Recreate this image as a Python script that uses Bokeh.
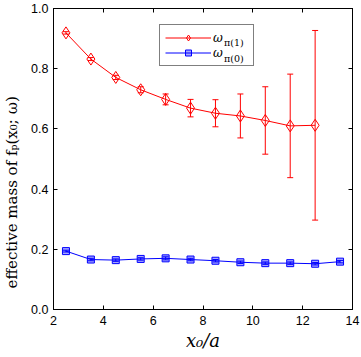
from bokeh.plotting import figure
from bokeh.models import (ColumnDataSource, Range1d, FixedTicker, NumeralTickFormatter,
                          LinearAxis, Label, Legend, LegendItem, Whisker, TeeHead,
                          CustomLabelingPolicy)
from bokeh.core.properties import value
from bokeh.embed import file_html
from bokeh.resources import INLINE

# ---------------- data ----------------
x_pi1 = [2.5, 3.5, 4.5, 5.5, 6.5, 7.5, 8.5, 9.5, 10.5, 11.5, 12.5]
m_pi1 = [0.919, 0.832, 0.771, 0.730, 0.698, 0.669, 0.652, 0.643, 0.628, 0.610, 0.612]
e_pi1 = [0.004, 0.005, 0.007, 0.010, 0.018, 0.029, 0.045, 0.073, 0.112, 0.172, 0.315]

x_pi0 = [2.5, 3.5, 4.5, 5.5, 6.5, 7.5, 8.5, 9.5, 10.5, 11.5, 12.5, 13.5]
m_pi0 = [0.194, 0.166, 0.164, 0.168, 0.170, 0.166, 0.162, 0.157, 0.154, 0.154, 0.152, 0.159]
e_pi0 = [0.003, 0.004, 0.004, 0.004, 0.005, 0.004, 0.004, 0.004, 0.004, 0.004, 0.004, 0.004]

x_ticks = [2, 4, 6, 8, 10, 12, 14]
y_ticks = [0.0, 0.2, 0.4, 0.6, 0.8, 1.0]

legend_main = ["ω", "ω"]
legend_sub = ["π(1)", "π(0)"]

x_label = "x₀/a"
y_label = "effective mass of fₚ(x₀; ω)"

# ---------------- layout ----------------
W, H = 361, 357
BL, BR, BT, BB = 52, 9, 8, 48
X0, X1, Y0, Y1 = 2, 14, 0, 1
FW = W - BL - BR
FH = H - BT - BB

RED = "#ff0000"
BLUE = "#0000ff"
SERIF = "DejaVu Serif"
SANS = "Liberation Sans"


def to_data(xp, yp):
    return (X0 + (xp - BL) * (X1 - X0) / FW, Y1 - (yp - BT) * (Y1 - Y0) / FH)


p = figure(width=W, height=H, x_range=Range1d(X0, X1), y_range=Range1d(Y0, Y1),
           output_backend="svg", toolbar_location=None,
           min_border_left=BL, min_border_right=BR, min_border_top=BT, min_border_bottom=BB)
p.background_fill_color = "white"
p.border_fill_color = "white"
p.outline_line_color = "black"
p.outline_line_width = 1
p.xgrid.visible = False
p.ygrid.visible = False

no_labels = CustomLabelingPolicy(code="""
for (const i of indices) indices.unset(i)
return indices
""")


def style_axis(ax, show_labels, standoff):
    ax.axis_line_color = "black"
    ax.axis_line_width = 1
    ax.major_tick_in = 4
    ax.major_tick_out = 0
    ax.minor_tick_line_color = None
    ax.major_tick_line_color = "black"
    ax.major_label_standoff = standoff
    if show_labels:
        ax.major_label_text_font = SANS
        ax.major_label_text_font_size = "12.5px"
        ax.major_label_text_color = "black"
    else:
        ax.major_label_policy = no_labels
        ax.major_label_text_font_size = "1px"


xb = p.xaxis[0]
xb.ticker = FixedTicker(ticks=x_ticks)
style_axis(xb, True, 6)
xb.axis_label = x_label
xb.axis_label_text_font = SERIF
xb.axis_label_text_font_style = "italic"
xb.axis_label_text_font_size = "18px"
xb.axis_label_text_color = "black"
xb.axis_label_standoff = 2

yl = p.yaxis[0]
yl.ticker = FixedTicker(ticks=y_ticks)
yl.formatter = NumeralTickFormatter(format="0.0")
style_axis(yl, True, 5)
yl.axis_label = y_label + "\u00a0" * 14
yl.axis_label_text_font = SERIF
yl.axis_label_text_font_style = "normal"
yl.axis_label_text_font_size = "15px"
yl.axis_label_text_color = "black"
yl.axis_label_standoff = 7

xt = LinearAxis(ticker=FixedTicker(ticks=x_ticks))
style_axis(xt, False, 0)
p.add_layout(xt, "above")
yr = LinearAxis(ticker=FixedTicker(ticks=y_ticks))
style_axis(yr, False, 0)
p.add_layout(yr, "right")

# ---------------- data sources ----------------
src1 = ColumnDataSource(dict(x=x_pi1, m=m_pi1,
                             lo=[m - e for m, e in zip(m_pi1, e_pi1)],
                             hi=[m + e for m, e in zip(m_pi1, e_pi1)]))
src0 = ColumnDataSource(dict(x=x_pi0, m=m_pi0,
                             lo=[m - e for m, e in zip(m_pi0, e_pi0)],
                             hi=[m + e for m, e in zip(m_pi0, e_pi0)]))

for src, col in ((src1, RED), (src0, BLUE)):
    w = Whisker(source=src, base="x", upper="hi", lower="lo", dimension="height",
                line_color=col, line_width=1,
                upper_head=TeeHead(size=6, line_color=col, line_width=1),
                lower_head=TeeHead(size=6, line_color=col, line_width=1))
    p.add_layout(w)

l1 = p.line("x", "m", source=src1, line_color=RED, line_width=1)
s1 = p.scatter("x", "m", source=src1, marker="diamond", size=12,
               line_color=RED, line_width=1, fill_color=None)
l0 = p.line("x", "m", source=src0, line_color=BLUE, line_width=1)
s0 = p.scatter("x", "m", source=src0, marker="square", size=7,
               line_color=BLUE, line_width=1, fill_color=BLUE, fill_alpha=0.35)

legend = Legend(items=[LegendItem(label=value(legend_main[0]), renderers=[l1, s1]),
                       LegendItem(label=value(legend_main[1]), renderers=[l0, s0])],
                location=(106, 243), orientation="vertical",
                padding=5, spacing=0, margin=0,
                glyph_width=46, glyph_height=15, label_width=35, label_height=15,
                label_standoff=2, label_text_font=SERIF, label_text_font_style="italic",
                label_text_font_size="12px", label_text_color="black",
                border_line_color="black", border_line_width=1,
                background_fill_alpha=0)
p.add_layout(legend)

# legend subscripts
for i in range(2):
    x, y = to_data(223, 42 + i * 16)
    p.add_layout(Label(x=x, y=y, text=legend_sub[i], text_font=SERIF,
                       text_font_size="9.5px",
                       text_align="left", text_baseline="alphabetic", text_color="black"))

open("out.html", "w").write(file_html(p, INLINE))
